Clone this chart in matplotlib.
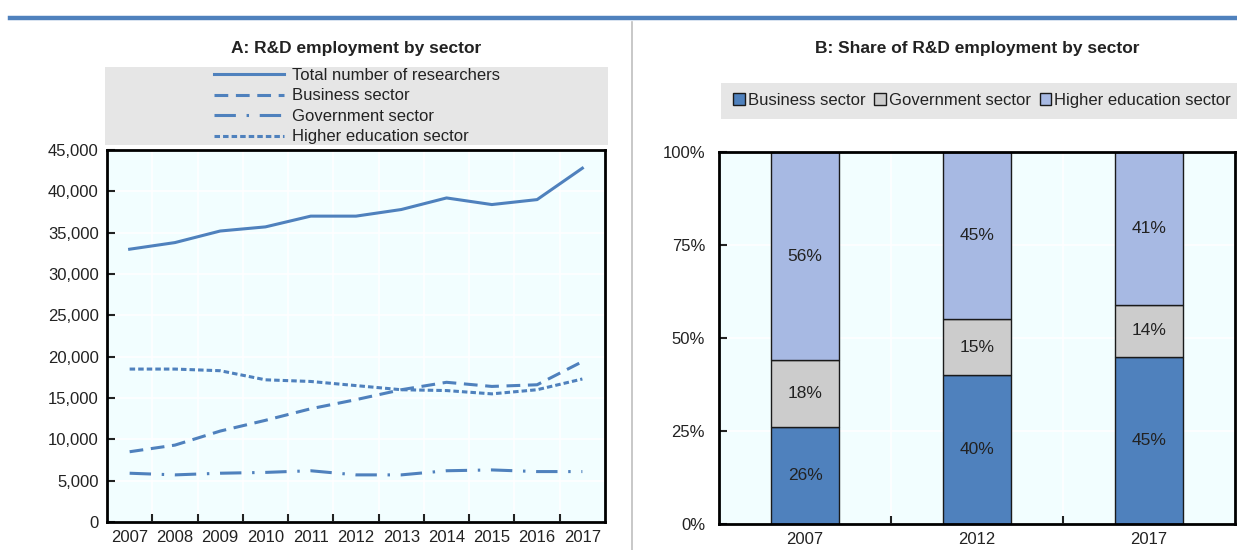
import numpy as np
import matplotlib.pyplot as plt
from matplotlib.patches import Rectangle
from matplotlib.lines import Line2D
from matplotlib.ticker import FuncFormatter

plt.rcParams['font.family'] = ['Liberation Sans Narrow', 'Liberation Sans', 'DejaVu Sans']
plt.rcParams['text.color'] = '#222222'
plt.rcParams['xtick.color'] = '#222222'
plt.rcParams['ytick.color'] = '#222222'

# panel A data
years = ['2007', '2008', '2009', '2010', '2011', '2012', '2013', '2014', '2015', '2016', '2017']
total = [33000, 33800, 35200, 35700, 37000, 37000, 37800, 39200, 38400, 39000, 42800]
business = [8500, 9300, 11000, 12300, 13700, 14800, 16000, 16900, 16400, 16600, 19400]
government = [5900, 5700, 5900, 6000, 6200, 5700, 5700, 6200, 6300, 6100, 6100]
higher_ed = [18500, 18500, 18300, 17200, 17000, 16500, 16000, 15900, 15500, 16000, 17300]

# panel B data (shares, %)
share_years = ['2007', '2012', '2017']
share_business = [26, 40, 45]
share_government = [18, 15, 14]
share_higher_ed = [56, 45, 41]

blue = '#4F81BD'
grey = '#CCCCCC'
light_blue = '#A7B9E3'
face = '#F2FEFF'
fs = 12

fig = plt.figure(figsize=(12.37, 5.5), dpi=100)

# blue rule across the top and the grey divider between panels
fig.add_artist(Line2D([10 / 1237, 1.0], [1 - 18 / 550, 1 - 18 / 550], color=blue, lw=3.2))
fig.add_artist(Line2D([632 / 1237, 632 / 1237], [0, 1 - 22 / 550], color='#BFBFBF', lw=1.2))

# ---- panel A ----
ax1 = fig.add_axes([107 / 1237, 1 - 522 / 550, 498 / 1237, 372 / 550])
ax1.set_facecolor(face)
x = np.arange(len(years))
lw = 2.2
ax1.plot(x, total, color=blue, lw=lw, label='Total number of researchers')
ax1.plot(x, business, color=blue, lw=lw, dashes=(4.5, 2.5), label='Business sector')
ax1.plot(x, government, color=blue, lw=lw, dashes=(7, 3.5, 0.8, 3.5), label='Government sector')
ax1.plot(x, higher_ed, color=blue, lw=lw, dashes=(1.8, 1.0), label='Higher education sector')

ax1.set_xlim(-0.5, len(years) - 0.5)
ax1.set_ylim(0, 45000)
ax1.set_yticks(np.arange(0, 45001, 5000))
ax1.yaxis.set_major_formatter(FuncFormatter(lambda v, p: f'{int(v):,}'))
ax1.set_xticks(x)
ax1.set_xticklabels(years)
ax1.set_xticks(np.arange(0.5, len(years) - 1, 1), minor=True)
ax1.tick_params(axis='x', which='major', length=0, labelsize=fs, pad=6)
ax1.tick_params(axis='x', which='minor', direction='in', length=6, width=1.5)
ax1.tick_params(axis='y', direction='in', length=6, width=1.5, labelsize=fs, pad=6)
ax1.grid(True, axis='y', color='white', lw=1.2)
ax1.grid(True, axis='x', which='minor', color='white', lw=1.2)
ax1.set_axisbelow(True)
for s in ax1.spines.values():
    s.set_linewidth(2)
    s.set_color('black')

fig.text(356 / 1237, 1 - 48 / 550, 'A: R&D employment by sector', ha='center', va='center',
         fontsize=12.5, fontweight='bold')
fig.add_artist(Rectangle((105 / 1237, 1 - 145 / 550), 503 / 1237, 78 / 550,
                         transform=fig.transFigure, facecolor='#E6E6E6', edgecolor='none'))
handles, labels = ax1.get_legend_handles_labels()
fig.legend(handles, labels, loc='upper left', bbox_to_anchor=(214 / 1237, 1 - 68 / 550),
           frameon=False, fontsize=fs, handlelength=4.2, handletextpad=0.45,
           labelspacing=0.33, borderpad=0, borderaxespad=0)

# ---- panel B ----
ax2 = fig.add_axes([719 / 1237, 1 - 524 / 550, 516 / 1237, 372 / 550])
ax2.set_facecolor(face)
xb = np.arange(len(share_years))
bw = 0.4
bottom_gov = np.array(share_business)
bottom_high = bottom_gov + np.array(share_government)
b1 = ax2.bar(xb, share_business, bw, color=blue, edgecolor='#1a1a1a', lw=1, label='Business sector')
b2 = ax2.bar(xb, share_government, bw, bottom=bottom_gov, color=grey, edgecolor='#1a1a1a', lw=1,
             label='Government sector')
b3 = ax2.bar(xb, share_higher_ed, bw, bottom=bottom_high, color=light_blue, edgecolor='#1a1a1a', lw=1,
             label='Higher education sector')
for bars, vals in ((b1, share_business), (b2, share_government), (b3, share_higher_ed)):
    for rect, v in zip(bars, vals):
        ax2.text(rect.get_x() + rect.get_width() / 2, rect.get_y() + rect.get_height() / 2,
                 f'{v}%', ha='center', va='center', fontsize=12.5)

ax2.set_xlim(-0.5, len(share_years) - 0.5)
ax2.set_ylim(0, 100)
ax2.set_yticks([0, 25, 50, 75, 100])
ax2.set_yticklabels(['0%', '25%', '50%', '75%', '100%'])
ax2.set_xticks(xb)
ax2.set_xticklabels(share_years)
ax2.set_xticks([0.5, 1.5], minor=True)
ax2.tick_params(axis='x', which='major', length=0, labelsize=fs, pad=6)
ax2.tick_params(axis='x', which='minor', direction='in', length=6, width=1.5)
ax2.tick_params(axis='y', direction='in', length=6, width=1.5, labelsize=fs, pad=10)
ax2.grid(True, axis='y', color='white', lw=1.2)
ax2.grid(True, axis='x', which='minor', color='white', lw=1.2)
ax2.set_axisbelow(True)
for s in ax2.spines.values():
    s.set_linewidth(2)
    s.set_color('black')

fig.text(977 / 1237, 1 - 48 / 550, 'B: Share of R&D employment by sector', ha='center', va='center',
         fontsize=12.5, fontweight='bold')
fig.add_artist(Rectangle((721 / 1237, 1 - 119 / 550), 516 / 1237, 36 / 550,
                         transform=fig.transFigure, facecolor='#E6E6E6', edgecolor='none'))
fig.legend([b1, b2, b3], ['Business sector', 'Government sector', 'Higher education sector'],
           loc='center', bbox_to_anchor=(982 / 1237, 1 - 100 / 550), ncol=3, frameon=False,
           fontsize=fs, handlelength=0.7, handleheight=0.7, handletextpad=0.15,
           columnspacing=0.55, borderpad=0)

fig.savefig('out.png', dpi=100, facecolor='white')
